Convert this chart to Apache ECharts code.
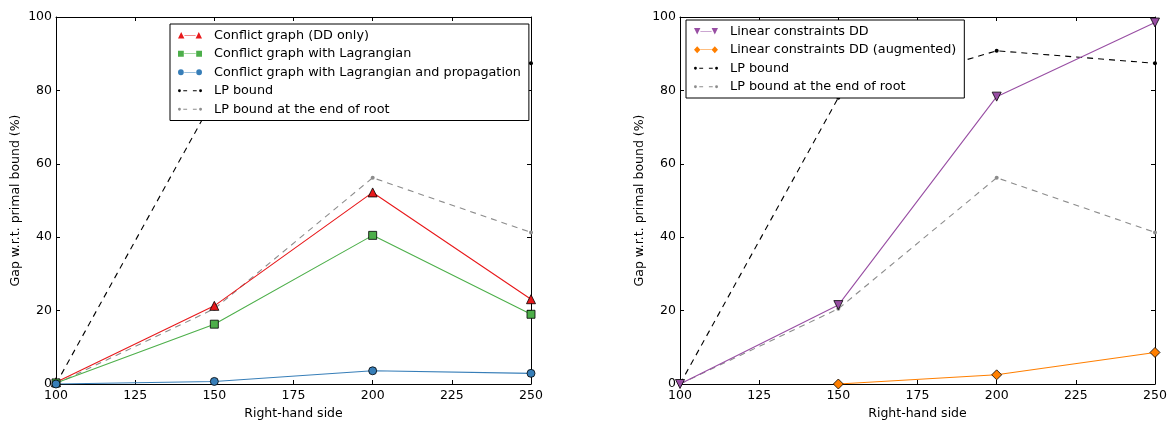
<!DOCTYPE html>
<html>
<head>
<meta charset="utf-8">
<script src="https://cdn.jsdelivr.net/npm/echarts@6/dist/echarts.min.js"></script>
<style>html,body{margin:0;padding:0;background:#fff}#c{width:1172px;height:424px}</style>
</head>
<body>
<div id="c"></div>
<script>
// ---- data ----
const rhs = [100, 150, 200, 250];
const xTicks = [100, 125, 150, 175, 200, 225, 250];
const yTicks = [0, 20, 40, 60, 80, 100];
const conflictDD = [0.5, 21.3, 52.2, 23.1];
const conflictLag = [0.3, 16.3, 40.5, 19.0];
const conflictLagProp = [0, 0.7, 3.6, 2.9];
const lpBound = [0, 78, 90.8, 87.4];
const lpBoundRoot = [0, 20.5, 56.2, 41.3];
const linearDD = [0, 21.5, 78.3, 98.5];
const linearDDAug = [null, 0, 2.5, 8.6];

const names = {
  dd: 'Conflict graph (DD only)',
  lag: 'Conflict graph with Lagrangian',
  prop: 'Conflict graph with Lagrangian and propagation',
  lp: 'LP bound',
  lpr: 'LP bound at the end of root',
  lin: 'Linear constraints DD',
  aug: 'Linear constraints DD (augmented)'
};

function pairs(arr) { return rhs.map((x, i) => [x, arr[i]]); }

const C = {red: '#e8191b', green: '#4daf4a', blue: '#377eb8', purple: '#984ea3', orange: '#ff7f00', black: '#000', gray: '#8c8c8c'};

// legend icons (line + two markers), 30x10 units
const lineBar = 'M8,4.6 L22,4.6 L22,5.4 L8,5.4 Z';
const dashBar = 'M8,4.6 L12,4.6 L12,5.4 L8,5.4 Z M18,4.6 L22,4.6 L22,5.4 L18,5.4 Z';
const icons = {
  triUp: 'path://M0,9 L4,1 L8,9 Z M22,9 L26,1 L30,9 Z ' + lineBar,
  rect: 'path://M0.5,1.5 L7.5,1.5 L7.5,8.5 L0.5,8.5 Z M22.5,1.5 L29.5,1.5 L29.5,8.5 L22.5,8.5 Z ' + lineBar,
  circ: 'path://M0.5,5 a3.5,3.5 0 1,0 7,0 a3.5,3.5 0 1,0 -7,0 Z M22.5,5 a3.5,3.5 0 1,0 7,0 a3.5,3.5 0 1,0 -7,0 Z ' + lineBar,
  dot: 'path://M2.5,5 a1.5,1.5 0 1,0 3,0 a1.5,1.5 0 1,0 -3,0 Z M24.5,5 a1.5,1.5 0 1,0 3,0 a1.5,1.5 0 1,0 -3,0 Z ' + dashBar,
  triDown: 'path://M0,1 L8,1 L4,9 Z M22,1 L30,1 L26,9 Z ' + lineBar,
  diam: 'path://M0,5 L4,0.5 L8,5 L4,9.5 Z M22,5 L26,0.5 L30,5 L26,9.5 Z ' + lineBar
};

const font = 'DejaVu Sans';
const gridW = 475;
const grids = [
  {left: 56, top: 17, width: gridW, height: 367, containLabel: false, outerBoundsMode: 'none'},
  {left: 680, top: 17, width: gridW, height: 367, containLabel: false, outerBoundsMode: 'none'}
];

function xAxis(gi, bottom) {
  return {
    type: 'value', gridIndex: gi, min: 100, max: 250, interval: 25,
    position: bottom ? 'bottom' : 'top',
    name: bottom ? 'Right-hand side' : '', nameLocation: 'middle', nameGap: 22,
    nameTextStyle: {fontFamily: font, fontSize: 12.5, color: '#000'},
    axisLine: {show: true, onZero: false, lineStyle: {color: '#000', width: 1}},
    axisTick: {show: true, inside: true, length: 4, lineStyle: {color: '#000'}},
    axisLabel: {show: bottom, fontFamily: font, fontSize: 12.5, color: '#000', margin: 5,
      customValues: xTicks, formatter: v => String(v)},
    splitLine: {show: false}
  };
}
function yAxis(gi, left) {
  return {
    type: 'value', gridIndex: gi, min: 0, max: 100, interval: 20,
    position: left ? 'left' : 'right',
    name: left ? 'Gap w.r.t. primal bound (%)' : '', nameLocation: 'middle', nameGap: 34,
    nameTextStyle: {fontFamily: font, fontSize: 12.5, color: '#000'},
    axisLine: {show: true, onZero: false, lineStyle: {color: '#000', width: 1}},
    axisTick: {show: true, inside: true, length: 4, lineStyle: {color: '#000'}},
    axisLabel: {show: left, fontFamily: font, fontSize: 12.5, color: '#000', margin: 4,
      formatter: v => String(v)},
    splitLine: {show: false}
  };
}

function series(name, data, xi, yi, color, symbol, size, dashed, z) {
  return {
    name, type: 'line', xAxisIndex: xi, yAxisIndex: yi, data: pairs(data),
    symbol, symbolSize: size, showAllSymbol: true, connectNulls: false, clip: true,
    lineStyle: {color, width: 1.1, type: dashed ? [6, 5] : 'solid'},
    itemStyle: {color, borderColor: '#000', borderWidth: dashed ? 0 : 0.8, opacity: 1},
    z: z || 2, animation: false
  };
}

const legendCommon = {
  orient: 'vertical', backgroundColor: '#fff', borderColor: '#000', borderWidth: 1,
  itemWidth: 24, itemHeight: 8, itemGap: 4,
  textStyle: {fontFamily: font, fontSize: 12.8, color: '#000', lineHeight: 14.5, padding: [0, 0, 0, 7]},
  itemStyle: {borderWidth: 0},
  selectedMode: false, z: 10
};

const option = {
  animation: false,
  backgroundColor: '#fff',
  grid: grids,
  xAxis: [xAxis(0, true), xAxis(1, true), xAxis(0, false), xAxis(1, false)],
  yAxis: [yAxis(0, true), yAxis(1, true), yAxis(0, false), yAxis(1, false)],
  legend: [
    Object.assign({}, legendCommon, {
      left: 170, top: 24, padding: [4, 8, 4, 8],
      data: [
        {name: names.dd, icon: icons.triUp},
        {name: names.lag, icon: icons.rect},
        {name: names.prop, icon: icons.circ},
        {name: names.lp, icon: icons.dot},
        {name: names.lpr, icon: icons.dot}
      ]
    }),
    Object.assign({}, legendCommon, {
      left: 686, top: 20, padding: [4, 8, 4, 8],
      data: [
        {name: names.lin, icon: icons.triDown},
        {name: names.aug, icon: icons.diam},
        {name: names.lp + ' ', icon: icons.dot},
        {name: names.lpr + ' ', icon: icons.dot}
      ]
    })
  ],
  series: [
    series(names.lp, lpBound, 0, 0, C.black, 'circle', 4, true, 1),
    series(names.lpr, lpBoundRoot, 0, 0, C.gray, 'circle', 4, true, 1),
    series(names.dd, conflictDD, 0, 0, C.red, 'triangle', 9, false, 3),
    series(names.lag, conflictLag, 0, 0, C.green, 'rect', 8, false, 3),
    series(names.prop, conflictLagProp, 0, 0, C.blue, 'circle', 8, false, 3),
    series(names.lp + ' ', lpBound, 1, 1, C.black, 'circle', 4, true, 1),
    series(names.lpr + ' ', lpBoundRoot, 1, 1, C.gray, 'circle', 4, true, 1),
    series(names.lin, linearDD, 1, 1, C.purple, 'path://M0,0 L10,0 L5,9 Z', 9, false, 3),
    series(names.aug, linearDDAug, 1, 1, C.orange, 'diamond', 10, false, 3)
  ]
};

const chart = echarts.init(document.getElementById('c'), null, {renderer: 'canvas'});
chart.setOption(option);
</script>
</body>
</html>
